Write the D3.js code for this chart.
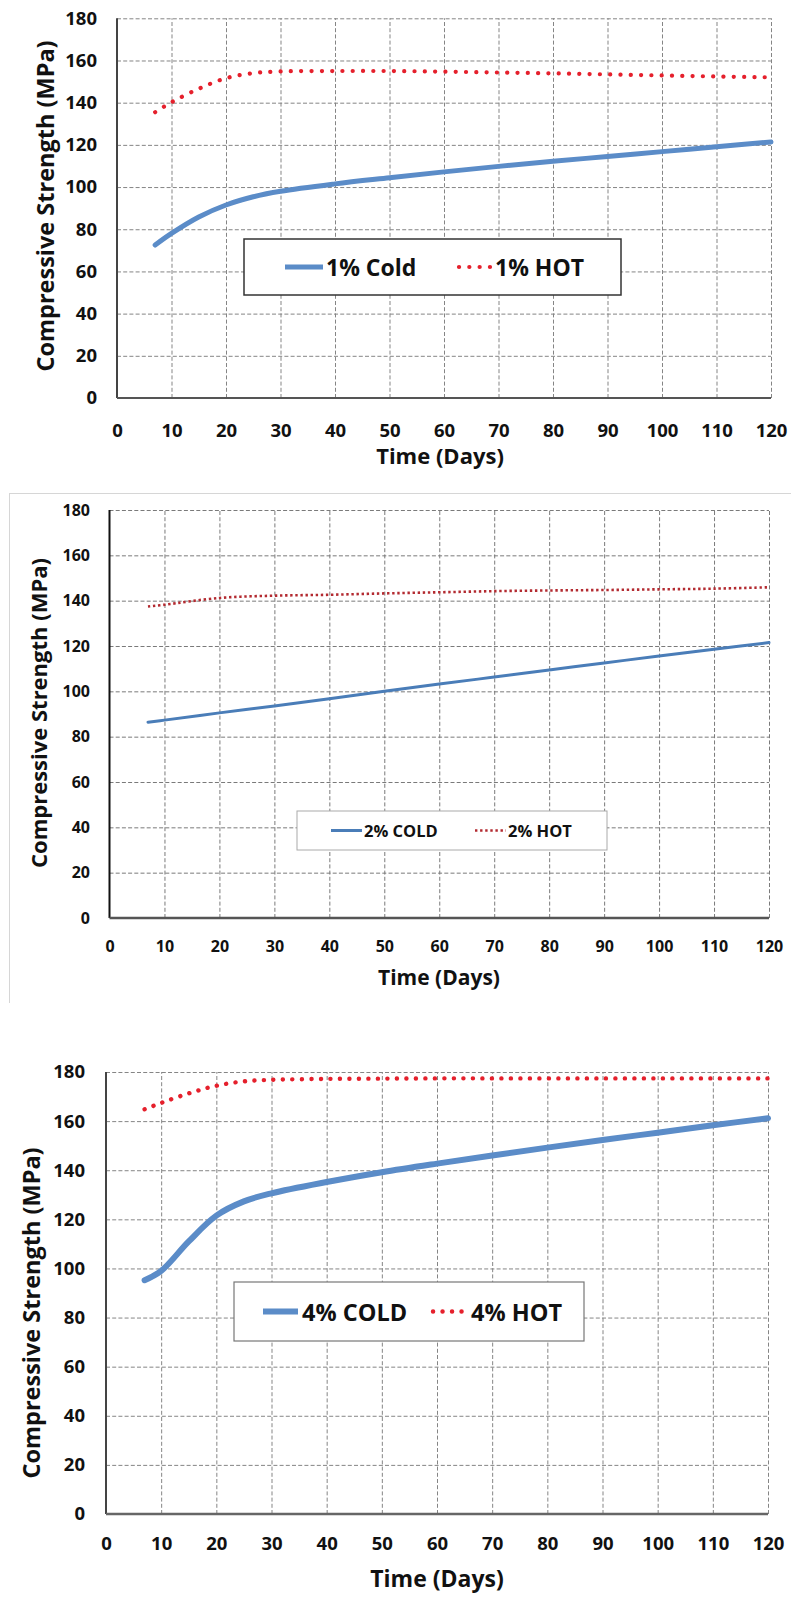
<!DOCTYPE html>
<html>
<head>
<meta charset="utf-8">
<script src="https://cdn.jsdelivr.net/npm/d3@7"></script>
<style>
  body { margin: 0; background: #fff; }
  text { font-family: "Open Sans", "DejaVu Sans", sans-serif; font-weight: bold; fill: #111; }
</style>
</head>
<body>
<svg id="chart" width="791" height="1597"></svg>
<script>
// ---- data ----
var xTicks = [0, 10, 20, 30, 40, 50, 60, 70, 80, 90, 100, 110, 120];
var yTicks = [0, 20, 40, 60, 80, 100, 120, 140, 160, 180];
var yTitle = "Compressive Strength (MPa)";
var xTitle = "Time (Days)";

// 1%
var days1 = [7, 10, 15, 20, 25, 30, 40, 50, 60, 70, 80, 90, 100, 110, 120];
var cold1 = [72.5, 78, 85.8, 91.5, 95.4, 98, 101.5, 104.4, 107.2, 109.8, 112.2, 114.5, 116.8, 119.1, 121.4];
var hot1  = [135.5, 140.2, 146.6, 151.6, 154, 154.8, 155, 155, 154.7, 154.3, 153.9, 153.4, 152.9, 152.4, 152];
var legend1 = ["1% Cold", "1% HOT"];

// 2%
var days2 = [7, 10, 20, 30, 40, 50, 60, 70, 80, 90, 100, 110, 120];
var cold2 = [86.4, 87.3, 90.5, 93.5, 96.7, 100, 103.2, 106.3, 109.4, 112.5, 115.6, 118.6, 121.5];
var hot2  = [137.4, 138.2, 141.2, 142.2, 142.6, 143.2, 143.7, 144.2, 144.5, 144.7, 145, 145.3, 145.9];
var legend2 = ["2% COLD", "2% HOT"];

// 4%
var days3 = [7, 10, 15, 20, 25, 30, 40, 50, 60, 70, 80, 90, 100, 110, 120];
var cold3 = [95.2, 99, 111, 121.5, 127.3, 130.6, 135.2, 139.2, 142.7, 146, 149.2, 152.3, 155.3, 158.3, 161.2];
var hot3  = [164.8, 167.4, 171.3, 174.4, 176.2, 176.8, 177.2, 177.3, 177.4, 177.4, 177.4, 177.4, 177.4, 177.4, 177.4];
var legend3 = ["4% COLD", "4% HOT"];

var svg = d3.select("#chart");

// light frame around the middle chart
svg.append("line").attr("x1", 9).attr("x2", 791).attr("y1", 493.5).attr("y2", 493.5)
  .attr("stroke", "#d6d6d6").attr("stroke-width", 1);
svg.append("line").attr("x1", 9.5).attr("x2", 9.5).attr("y1", 493).attr("y2", 1003)
  .attr("stroke", "#d6d6d6").attr("stroke-width", 1);

function drawPanel(p) {
  var x = d3.scaleLinear().domain([0, 120]).range([p.left, p.right]);
  var y = d3.scaleLinear().domain([0, 180]).range([p.bottom, p.top]);
  var w = p.right - p.left, h = p.bottom - p.top;

  // grid
  var gx = svg.append("g").attr("transform", "translate(0," + p.bottom + ")")
    .call(d3.axisBottom(x).tickValues(xTicks.slice(1)).tickSize(-h).tickFormat(""));
  var gy = svg.append("g").attr("transform", "translate(" + p.left + ",0)")
    .call(d3.axisLeft(y).tickValues(yTicks.slice(1)).tickSize(-w).tickFormat(""));
  [gx, gy].forEach(function(g) {
    g.select(".domain").remove();
    g.selectAll("line").attr("stroke", p.grid).attr("stroke-width", 1)
      .attr("stroke-dasharray", "4,2.2");
  });

  // axis labels
  var ax = svg.append("g").attr("transform", "translate(0," + p.bottom + ")")
    .call(d3.axisBottom(x).tickValues(xTicks).tickSize(0).tickPadding(p.xPad));
  var ay = svg.append("g").attr("transform", "translate(" + p.left + ",0)")
    .call(d3.axisLeft(y).tickValues(yTicks).tickSize(0).tickPadding(p.yPad));
  [ax, ay].forEach(function(g) {
    g.select(".domain").remove();
    g.selectAll("text").style("font-family", "'Open Sans', sans-serif")
      .style("font-weight", "bold").style("font-size", p.tickFont + "px").attr("fill", "#111");
  });

  // axis lines
  svg.append("line").attr("x1", p.left).attr("x2", p.left).attr("y1", p.top).attr("y2", p.bottom)
    .attr("stroke", p.axisLeftColor).attr("stroke-width", 2);
  svg.append("line").attr("x1", p.left).attr("x2", p.right).attr("y1", p.bottom).attr("y2", p.bottom)
    .attr("stroke", p.axisBottomColor).attr("stroke-width", p.bottomWidth);

  // titles
  svg.append("text")
    .attr("transform", "translate(" + p.yTitleX + "," + p.yTitleY + ") rotate(-90)")
    .attr("text-anchor", "middle").attr("dominant-baseline", "central")
    .style("font-size", p.yTitleFont + "px").text(yTitle);
  svg.append("text")
    .attr("x", p.xTitleX).attr("y", p.xTitleY)
    .attr("text-anchor", "middle").attr("dominant-baseline", "central")
    .style("font-size", p.xTitleFont + "px").text(xTitle);

  var line = d3.line().curve(d3.curveCatmullRom.alpha(0.5))
    .x(function(d) { return x(d[0]); })
    .y(function(d) { return y(d[1]); });

  var coldPts = d3.zip(p.days, p.cold);
  var hotPts = d3.zip(p.days, p.hot);

  svg.append("path").datum(hotPts).attr("d", line)
    .attr("fill", "none").attr("stroke", p.hotColor).attr("stroke-width", p.hotWidth)
    .attr("stroke-linecap", p.hotCap).attr("stroke-dasharray", p.hotDash);
  svg.append("path").datum(coldPts).attr("d", line)
    .attr("fill", "none").attr("stroke", p.coldColor).attr("stroke-width", p.coldWidth)
    .attr("stroke-linecap", "round");

  // legend
  var L = p.legend;
  svg.append("rect").attr("x", L.x).attr("y", L.y).attr("width", L.w).attr("height", L.h)
    .attr("fill", "#fff").attr("stroke", L.border).attr("stroke-width", L.borderWidth);
  var cy = L.y + L.h / 2;
  svg.append("line").attr("x1", L.s1[0]).attr("x2", L.s1[1]).attr("y1", cy).attr("y2", cy)
    .attr("stroke", p.coldColor).attr("stroke-width", p.coldWidth);
  svg.append("line").attr("x1", L.s2[0]).attr("x2", L.s2[1]).attr("y1", cy).attr("y2", cy)
    .attr("stroke", p.hotColor).attr("stroke-width", p.hotWidth)
    .attr("stroke-linecap", p.hotCap).attr("stroke-dasharray", p.hotDash);
  svg.append("text").attr("x", L.t1).attr("y", cy).attr("dominant-baseline", "central")
    .style("font-size", L.font + "px").style("font-weight", L.weight).text(p.labels[0]);
  svg.append("text").attr("x", L.t2).attr("y", cy).attr("dominant-baseline", "central")
    .style("font-size", L.font + "px").style("font-weight", L.weight).text(p.labels[1]);
}

drawPanel({
  left: 117, right: 771, top: 18.3, bottom: 398,
  days: days1, cold: cold1, hot: hot1, labels: legend1,
  grid: "#858585", axisLeftColor: "#444", axisBottomColor: "#555", bottomWidth: 2,
  tickFont: 18.5, xPad: 25.5, yPad: 20,
  yTitleX: 45, yTitleY: 206, yTitleFont: 23.5,
  xTitleX: 440, xTitleY: 455, xTitleFont: 22,
  coldColor: "#5b8cc8", coldWidth: 5,
  hotColor: "#e5202c", hotWidth: 4.2, hotCap: "round", hotDash: "0.1,10.2",
  legend: { x: 244, y: 239, w: 377, h: 56, border: "#333", borderWidth: 1.5,
    s1: [285, 323], s2: [459, 492], t1: 326, t2: 495, font: 23, weight: "bold" }
});

drawPanel({
  left: 109.5, right: 769, top: 510, bottom: 918,
  days: days2, cold: cold2, hot: hot2, labels: legend2,
  grid: "#7a7a7a", axisLeftColor: "#111", axisBottomColor: "#555", bottomWidth: 2.6,
  tickFont: 16, xPad: 23, yPad: 19.5,
  yTitleX: 38, yTitleY: 713, yTitleFont: 22,
  xTitleX: 439, xTitleY: 977, xTitleFont: 21,
  coldColor: "#4a7db8", coldWidth: 3,
  hotColor: "#b32a30", hotWidth: 2.6, hotCap: "butt", hotDash: "2.4,2.7",
  legend: { x: 297, y: 811, w: 310, h: 39, border: "#aaa", borderWidth: 1,
    s1: [331, 362], s2: [475, 506], t1: 364, t2: 508, font: 16.5, weight: "bold" }
});

drawPanel({
  left: 106, right: 768, top: 1072, bottom: 1514,
  days: days3, cold: cold3, hot: hot3, labels: legend3,
  grid: "#858585", axisLeftColor: "#444", axisBottomColor: "#666", bottomWidth: 2.5,
  tickFont: 18.5, xPad: 22.5, yPad: 21,
  yTitleX: 31, yTitleY: 1313, yTitleFont: 23.5,
  xTitleX: 437, xTitleY: 1578, xTitleFont: 23,
  coldColor: "#5b8cc8", coldWidth: 6,
  hotColor: "#e5202c", hotWidth: 4.4, hotCap: "round", hotDash: "0.1,9.4",
  legend: { x: 234, y: 1282, w: 350, h: 59, border: "#777", borderWidth: 1.2,
    s1: [263, 298], s2: [433, 463], t1: 302, t2: 471, font: 23.5, weight: "bold" }
});
</script>
</body>
</html>
